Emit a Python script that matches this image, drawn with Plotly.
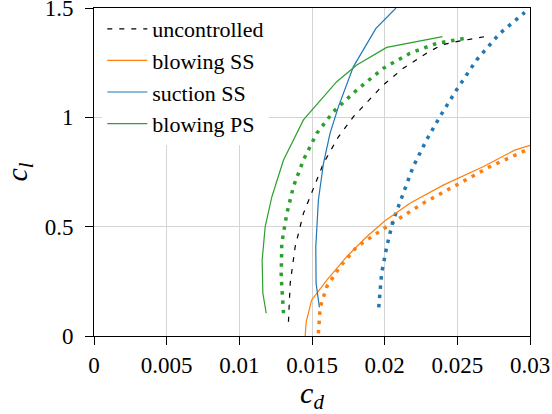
import plotly.graph_objects as go

# uncontrolled (black dashed)
unc_cd = [0.01338, 0.0135, 0.01384, 0.01441, 0.01533, 0.01579, 0.01682, 0.01785, 0.0199, 0.02128, 0.02288, 0.02391, 0.02494, 0.02712]
unc_cl = [0.065, 0.241, 0.408, 0.561, 0.713, 0.79, 0.911, 1.003, 1.148, 1.224, 1.293, 1.331, 1.346, 1.372]

# blowing SS
bss_cd = [0.01453, 0.0146, 0.01498, 0.01602, 0.01739, 0.01876, 0.02002, 0.02174, 0.02403, 0.02677, 0.02895, 0.03]
bss_cl = [0.0, 0.065, 0.165, 0.256, 0.363, 0.454, 0.527, 0.607, 0.69, 0.774, 0.85, 0.872]
bss2_cd = [0.01544, 0.01556, 0.01602, 0.01693, 0.01808, 0.01945, 0.02082, 0.02265, 0.02494, 0.02723, 0.03]
bss2_cl = [0.012, 0.131, 0.226, 0.317, 0.408, 0.47, 0.53, 0.607, 0.69, 0.774, 0.858]

# suction SS
sss_cd = [0.01551, 0.01528, 0.01526, 0.01544, 0.01579, 0.01624, 0.01682, 0.01785, 0.0194, 0.02078]
sss_cl = [0.131, 0.241, 0.408, 0.622, 0.79, 0.927, 1.049, 1.232, 1.407, 1.5]
sss2_cd = [0.01959, 0.01979, 0.02014, 0.02059, 0.02128, 0.02196, 0.02288, 0.0238, 0.02494, 0.02632, 0.02792, 0.02964]
sss2_cl = [0.131, 0.287, 0.408, 0.53, 0.652, 0.774, 0.896, 1.003, 1.125, 1.262, 1.384, 1.48]

# blowing PS
bps_cd = [0.01185, 0.01162, 0.01157, 0.01178, 0.01224, 0.01304, 0.01441, 0.0167, 0.01808, 0.02014, 0.02398]
bps_cl = [0.104, 0.195, 0.348, 0.5, 0.637, 0.805, 0.988, 1.163, 1.239, 1.32, 1.369]
bps2_cd = [0.01304, 0.01288, 0.01292, 0.01327, 0.01372, 0.01441, 0.01533, 0.01647, 0.01808, 0.0199, 0.02174, 0.02357, 0.02574]
bps2_cl = [0.104, 0.271, 0.424, 0.561, 0.683, 0.805, 0.927, 1.026, 1.125, 1.224, 1.293, 1.338, 1.364]

x_ticks = [0, 0.005, 0.01, 0.015, 0.02, 0.025, 0.03]
x_labels = ["0", "0.005", "0.01", "0.015", "0.02", "0.025", "0.03"]
y_ticks = [0, 0.5, 1, 1.5]
y_labels = ["0", "0.5", "1", "1.5"]

ORANGE = "#ff7f0e"
BLUE = "#1f77b4"
GREEN = "#2ca02c"
DOT = "3.5px,5.8px"

fig = go.Figure()
fig.add_trace(go.Scatter(x=bss2_cd, y=bss2_cl, mode="lines", showlegend=False,
                         line=dict(color=ORANGE, width=3.5, dash=DOT)))
fig.add_trace(go.Scatter(x=sss2_cd, y=sss2_cl, mode="lines", showlegend=False,
                         line=dict(color=BLUE, width=3.5, dash=DOT)))
fig.add_trace(go.Scatter(x=bps2_cd, y=bps2_cl, mode="lines", showlegend=False,
                         line=dict(color=GREEN, width=3.5, dash=DOT)))
fig.add_trace(go.Scatter(x=unc_cd, y=unc_cl, mode="lines", name="uncontrolled",
                         line=dict(color="black", width=1.2, dash="5px,7px")))
fig.add_trace(go.Scatter(x=bss_cd, y=bss_cl, mode="lines", name="blowing SS",
                         line=dict(color=ORANGE, width=1.2)))
fig.add_trace(go.Scatter(x=sss_cd, y=sss_cl, mode="lines", name="suction SS",
                         line=dict(color=BLUE, width=1.2)))
fig.add_trace(go.Scatter(x=bps_cd, y=bps_cl, mode="lines", name="blowing PS",
                         line=dict(color=GREEN, width=1.2)))

FONT = "Liberation Serif"
axis_common = dict(showgrid=True, gridcolor="#d4d4d4", gridwidth=1, zeroline=False,
                   showline=True, linecolor="black", linewidth=1, mirror=True,
                   ticks="outside", ticklen=8, tickcolor="black", tickwidth=1,
                   ticklabeloverflow="allow",
                   tickfont=dict(family=FONT, size=23, color="black"))

fig.update_xaxes(range=[0, 0.03], tickvals=x_ticks, ticktext=x_labels,
                 title=dict(text="<i>c</i><sub><i>d</i></sub>", font=dict(family=FONT, size=30, color="black"), standoff=6),
                 **axis_common)
fig.update_yaxes(range=[0, 1.5], tickvals=y_ticks, ticktext=y_labels, ticklabelstandoff=7,
                 title=dict(text="<i>c</i><sub><i>l</i></sub>", font=dict(family=FONT, size=30, color="black"), standoff=15),
                 **axis_common)

fig.update_layout(
    width=552, height=414,
    margin=dict(l=93.5, r=21.7, t=8, b=78, autoexpand=False),
    plot_bgcolor="white", paper_bgcolor="white",
    font=dict(family=FONT, color="black", size=23),
    legend=dict(x=0.019, y=1.0, xanchor="left", yanchor="top",
                bgcolor="white", borderwidth=0, itemwidth=40,
                font=dict(family=FONT, size=22, color="black"),
                tracegroupgap=0),
)

fig.write_html("out.html", config={"displayModeBar": False},
               post_script="document.body.style.margin='0';document.body.style.overflow='hidden';")
